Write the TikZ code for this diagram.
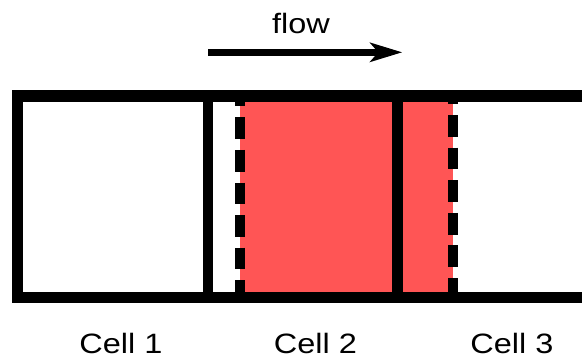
\documentclass[tikz,border=0pt]{standalone}
\usepackage{fontspec}
\setmainfont{Liberation Sans}
\usetikzlibrary{arrows.meta}
\definecolor{cellred}{HTML}{FF5555}
\tikzset{
  wall/.style={line width=11.5pt, line cap=rect},
  front/.style={line width=10pt, dash pattern=on 21.7pt off 10.9pt},
  lbl/.style={font=\fontsize{28}{32}\selectfont, inner sep=0pt, anchor=base, xscale=1.16},
}
\begin{document}
\begin{tikzpicture}[x=1pt,y=-1pt]
  \useasboundingbox (0,0) rectangle (582,360);
  % shaded fluid region between the two fronts
  \fill[cellred] (240,96) rectangle (453,297.5);
  % moving fronts
  \draw[front, dash phase=5.3pt] (240,90) -- (240,303);
  \draw[front, dash phase=7.6pt] (453,90) -- (453,303);
  % channel walls and cell boundaries
  \draw[wall] (588,95.8) -- (17.5,95.8) -- (17.5,297.3) -- (588,297.3);
  \draw[line width=11.5pt] (588,95.8) -- (588,297.3);
  \draw[line width=10.7pt] (208,95.8) -- (208,297.3);
  \draw[line width=11.5pt] (397.5,95.8) -- (397.5,297.3);
  % flow direction
  \coordinate (fs) at (208.3,52.3);
  \coordinate (fe) at (402.3,52.3);
  \draw[line width=6.7pt, -{Stealth[length=32pt, width=19pt, inset=8pt]}] (fs) -- (fe);
  \node[lbl] (flow) at (301,33.3) {flow};
  % cell labels
  \node[lbl] (c1) at (121,353.3) {Cell 1};
  \node[lbl] (c2) at (315.5,353.3) {Cell 2};
  \node[lbl] (c3) at (512,353.3) {Cell 3};
\end{tikzpicture}
\end{document}
